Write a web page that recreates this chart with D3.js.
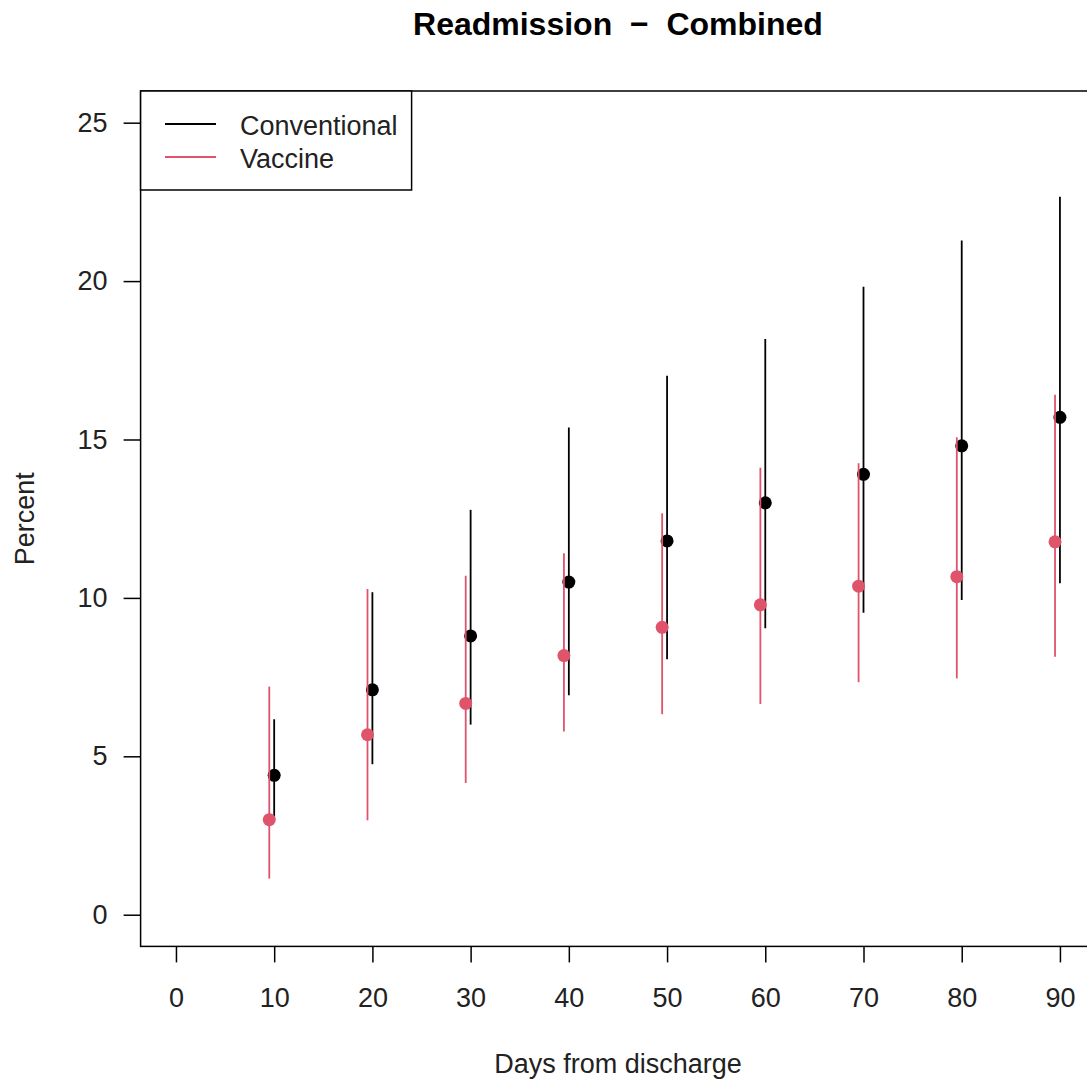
<!DOCTYPE html>
<html>
<head>
<meta charset="utf-8">
<script src="https://cdn.jsdelivr.net/npm/d3@7"></script>
<style>
  body { margin: 0; background: #fff; }
  text { font-family: "Liberation Sans", Arial, sans-serif; }
</style>
</head>
<body>
<div id="chart"></div>
<script>
// Days from discharge, both groups
var days = [10, 20, 30, 40, 50, 60, 70, 80, 90];

// Conventional: estimate and interval (percent)
var convEst = [4.4, 7.1, 8.8, 10.5, 11.8, 13.0, 13.9, 14.8, 15.7];
var convLo  = [3.1, 4.75, 6.0, 6.93, 8.06, 9.04, 9.53, 9.93, 10.46];
var convHi  = [6.17, 10.18, 12.78, 15.38, 17.01, 18.17, 19.82, 21.28, 22.66];

// Vaccine: estimate and interval (percent)
var vacEst = [3.0, 5.68, 6.67, 8.18, 9.07, 9.78, 10.37, 10.67, 11.77];
var vacLo  = [1.14, 2.98, 4.16, 5.78, 6.33, 6.65, 7.34, 7.46, 8.14];
var vacHi  = [7.2, 10.28, 10.70, 11.41, 12.67, 14.11, 14.25, 15.07, 16.41];

var xTicks = [0, 10, 20, 30, 40, 50, 60, 70, 80, 90];
var yTicks = [0, 5, 10, 15, 20, 25];
var seriesNames = ["Conventional", "Vaccine"];
var seriesColors = ["#000000", "#DF536B"];

var width = 1087, height = 1080;
var plot = {left: 140.6, right: 1095.3, top: 91, bottom: 946.4};

var svg = d3.select("#chart").append("svg")
    .attr("width", width)
    .attr("height", height);

// R style: 4% extension of the limits
var x = d3.scaleLinear().domain([-3.6, 93.6]).range([plot.left, plot.right]);
var y = d3.scaleLinear().domain([-1, 26]).range([plot.bottom, plot.top]);

var series = [
    {est: convEst, lo: convLo, hi: convHi, offset: 0, color: seriesColors[0]},
    {est: vacEst, lo: vacLo, hi: vacHi, offset: -0.5, color: seriesColors[1]}
];

// Draw intervals and points
series.forEach(function (s) {
    var g = svg.append("g");
    var rows = days.map(function (d, i) {
        return {x: d + s.offset, est: s.est[i], lo: s.lo[i], hi: s.hi[i]};
    });
    g.selectAll("line").data(rows).enter().append("line")
        .attr("x1", function (d) { return x(d.x); })
        .attr("x2", function (d) { return x(d.x); })
        .attr("y1", function (d) { return y(d.lo); })
        .attr("y2", function (d) { return y(d.hi); })
        .attr("stroke", s.color)
        .attr("stroke-width", 1.8);
    g.selectAll("circle").data(rows).enter().append("circle")
        .attr("cx", function (d) { return x(d.x); })
        .attr("cy", function (d) { return y(d.est); })
        .attr("r", 6.5)
        .attr("fill", s.color);
});

// Axes
var xAxis = svg.append("g")
    .attr("transform", "translate(0," + plot.bottom + ")")
    .call(d3.axisBottom(x).tickValues(xTicks).tickSize(16).tickPadding(25).tickSizeOuter(0));
var yAxis = svg.append("g")
    .attr("transform", "translate(" + plot.left + ",0)")
    .call(d3.axisLeft(y).tickValues(yTicks).tickSize(17).tickPadding(16).tickSizeOuter(0));

[xAxis, yAxis].forEach(function (a) {
    a.select(".domain").remove();
    a.selectAll(".tick line").attr("stroke", "#000").attr("stroke-width", 1.5);
    a.selectAll(".tick text")
        .attr("fill", "#222")
        .style("font-size", "27px")
        .style("font-family", "'Liberation Sans', Arial, sans-serif");
});

// Plot box
svg.append("rect")
    .attr("x", plot.left)
    .attr("y", plot.top)
    .attr("width", plot.right - plot.left)
    .attr("height", plot.bottom - plot.top)
    .attr("fill", "none")
    .attr("stroke", "#000")
    .attr("stroke-width", 1.5);

// Title and axis labels
svg.append("text")
    .attr("x", (plot.left + plot.right) / 2)
    .attr("y", 35)
    .attr("text-anchor", "middle")
    .style("font-size", "32px")
    .style("font-weight", "bold")
    .style("white-space", "pre")
    .text("Readmission  \u2212  Combined");

svg.append("text")
    .attr("x", (plot.left + plot.right) / 2)
    .attr("y", 1073)
    .attr("text-anchor", "middle")
    .attr("fill", "#222")
    .style("font-size", "27px")
    .text("Days from discharge");

svg.append("text")
    .attr("transform", "translate(34," + (plot.top + plot.bottom) / 2 + ") rotate(-90)")
    .attr("text-anchor", "middle")
    .attr("fill", "#222")
    .style("font-size", "27px")
    .text("Percent");

// Legend
var legend = svg.append("g");
legend.append("rect")
    .attr("x", plot.left)
    .attr("y", plot.top)
    .attr("width", 271)
    .attr("height", 99)
    .attr("fill", "#fff")
    .attr("stroke", "#000")
    .attr("stroke-width", 1.5);

seriesNames.forEach(function (name, i) {
    var ly = 124 + i * 33;
    legend.append("line")
        .attr("x1", 165).attr("x2", 216)
        .attr("y1", ly).attr("y2", ly)
        .attr("stroke", seriesColors[i])
        .attr("stroke-width", 1.8);
    legend.append("text")
        .attr("x", 240)
        .attr("y", ly + 2)
        .attr("dy", "0.35em")
        .attr("fill", "#222")
        .style("font-size", "27px")
        .text(name);
});
</script>
</body>
</html>
